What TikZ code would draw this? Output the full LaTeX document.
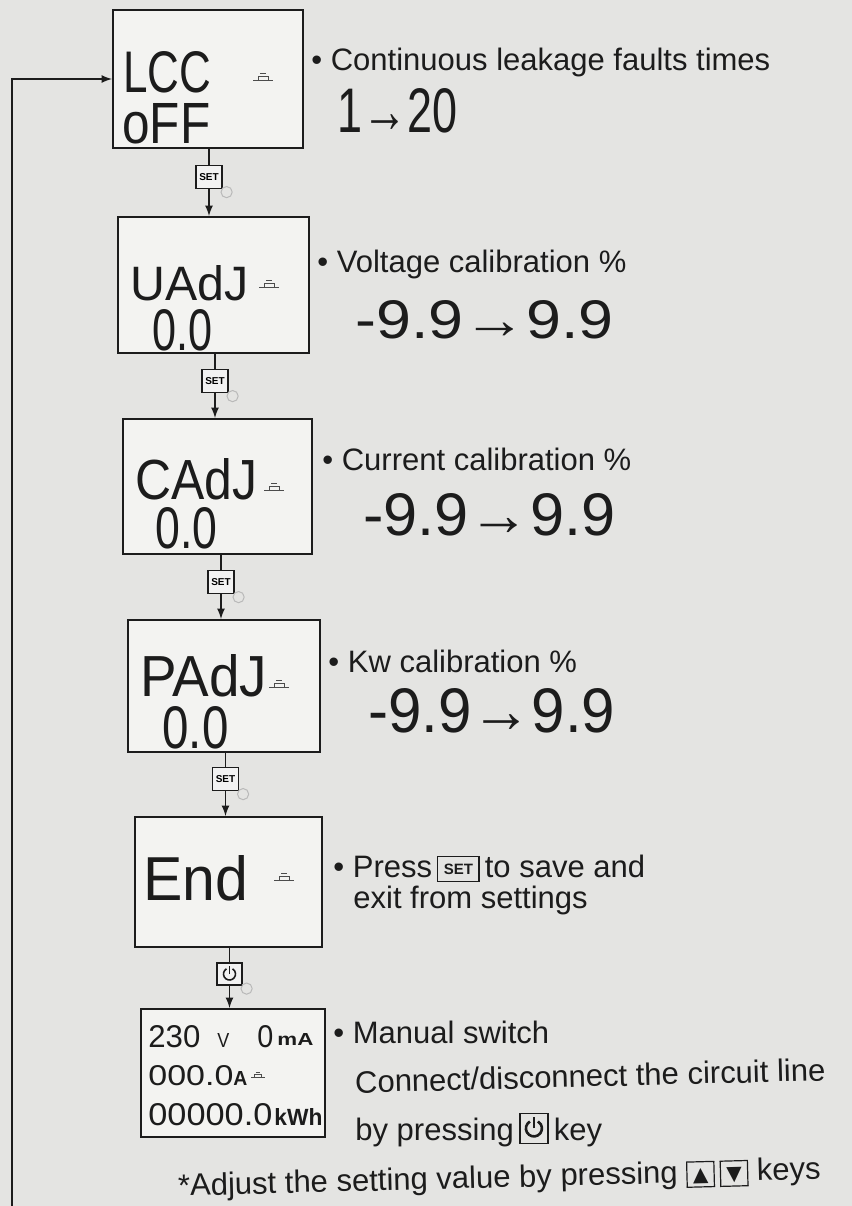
\documentclass[tikz,border=0pt]{standalone}
\usepackage{fontspec}
\usepackage{graphicx}
\setmainfont{Liberation Sans}
\newfontfamily\lcdfont{Liberation Sans}
\newfontfamily\symfont{DejaVu Sans}
\definecolor{paper}{HTML}{E4E4E2}
\definecolor{lcdbg}{HTML}{F3F3F1}
\definecolor{ink}{HTML}{1C1C1C}
\newdimen\pxu \pxu=0.5pt
\newcommand\fitbox[3]{\resizebox{#1\pxu}{#2\pxu}{#3}}
\newcommand\lcdfit[3]{\fitbox{#1}{#2}{\lcdfont #3}}
\newcommand\keycap[2]{\raisebox{-1pt}{\fboxsep=0pt\fboxrule=0.6pt\fbox{\makebox[#1]{\rule[-1pt]{0pt}{12pt}#2}}}}
\tikzset{
  >=latex,
  screen/.style={draw=ink, line width=1pt, fill=lcdbg, inner sep=0pt},
  setkey/.style={draw=ink, line width=0.6pt, fill=gray!10, inner sep=0pt,
    minimum width=13pt, minimum height=11.5pt, font=\fontsize{5}{5}\selectfont\bfseries},
  wire/.style={draw=ink, line width=0.8pt},
  finger/.style={draw=gray!55, line width=0.5pt},
  txt/.style={font=\fontsize{15.5}{18}\selectfont, text=ink, inner sep=0pt, anchor=base west},
  lcd/.style={text=ink, inner sep=0pt, anchor=base west},
  leak/.pic={
    \draw[gray!60!black, line width=0.5pt] (-10,0) -- (10,0);
    \draw[gray!60!black, line width=0.5pt] (-5,0) -- (-5,-4) -- (5,-4) -- (5,0);
    \draw[gray!60!black, line width=0.5pt] (-3,-7) -- (3,-7);
  }
}
\begin{document}
\begin{tikzpicture}[x=0.5pt, y=-0.5pt]
  \useasboundingbox (0,0) rectangle (852,1206);
  \fill[paper] (0,0) rectangle (852,1206);

  \node[screen, minimum width=95pt, minimum height=69pt] (lcc) at (208,79) {};
  \node[screen, minimum width=95.5pt, minimum height=68pt] (uadj) at (213.5,285) {};
  \node[screen, minimum width=94.5pt, minimum height=67.5pt] (cadj) at (217.5,486.5) {};
  \node[screen, minimum width=96pt, minimum height=66pt] (padj) at (224,686) {};
  \node[screen, minimum width=93.5pt, minimum height=65pt] (endb) at (228.5,882) {};
  \node[screen, minimum width=92pt, minimum height=64pt] (meter) at (233,1073) {};

  \node[setkey] (set1) at (209,177) {SET};
  \node[setkey] (set2) at (215,381) {SET};
  \node[setkey] (set3) at (221,582) {SET};
  \node[setkey] (set4) at (225.5,779) {SET};
  \node[setkey, minimum width=12.5pt, minimum height=11pt] (pwr) at (229.5,974) {};
  \draw[ink, line width=0.8pt] (pwr.center) ++(120:3pt) arc (120:420:3pt);
  \draw[ink, line width=0.8pt] (pwr.center) -- ++(0,3.8pt);

  \draw[wire] (lcc.south -| set1) -- (set1.north);
  \draw[wire,->] (set1.south) -- (uadj.north -| set1);
  \draw[wire] (uadj.south -| set2) -- (set2.north);
  \draw[wire,->] (set2.south) -- (cadj.north -| set2);
  \draw[wire] (cadj.south -| set3) -- (set3.north);
  \draw[wire,->] (set3.south) -- (padj.north -| set3);
  \draw[wire] (padj.south -| set4) -- (set4.north);
  \draw[wire,->] (set4.south) -- (endb.north -| set4);
  \draw[wire] (endb.south -| pwr) -- (pwr.north);
  \draw[wire,->] (pwr.south) -- (meter.north -| pwr);
  \foreach \k in {set1,set2,set3,set4,pwr}
    \draw[finger] ([shift={(4,3)}]\k.south east) circle (2.8pt);

  \coordinate (loopfoot) at (12,1206);
  \draw[wire,->] (loopfoot) |- (lcc.west);

  \node[lcd] (lccA) at (123,92) {\lcdfit{88}{41}{LCC}};
  \node[lcd] (lccB) at (122,143) {\lcdfit{88}{40}{oFF}};
  \pic at (263,80) {leak};
  \node[lcd] (uadjA) at (130,300) {\lcdfit{118}{35}{UAdJ}};
  \node[lcd] (uadjB) at (152,350) {\lcdfit{60}{41}{0.0}};
  \pic at (269,287) {leak};
  \node[lcd] (cadjA) at (135,499) {\lcdfit{122}{41}{CAdJ}};
  \node[lcd] (cadjB) at (155,548) {\lcdfit{62}{41}{0.0}};
  \pic at (274,490) {leak};
  \node[lcd] (padjA) at (140,696) {\lcdfit{127}{42}{PAdJ}};
  \node[lcd] (padjB) at (162,748) {\lcdfit{66}{42}{0.0}};
  \pic at (279,687) {leak};
  \node[lcd] (endA) at (143,900) {\lcdfit{105}{45}{End}};
  \pic at (284,880) {leak};

  \node[lcd] (volts) at (148,1047) {\lcdfit{52}{22}{230}};
  \node[lcd] (vunit) at (217,1047) {\lcdfit{12}{14}{V}};
  \node[lcd] (milli) at (257,1047) {\lcdfit{16}{22}{0}};
  \node[lcd] (maunit) at (277,1045) {\fitbox{36}{12}{\bfseries mA}};
  \node[lcd] (amps) at (148,1085) {\lcdfit{85}{20}{000.0}};
  \node[lcd] (aunit) at (233,1085) {\fitbox{14}{14}{\bfseries A}};
  \pic[scale=0.7] at (258,1077) {leak};
  \node[lcd] (energy) at (148,1125) {\lcdfit{124}{22}{00000.0}};
  \node[lcd] (kwhunit) at (274,1125) {\fitbox{48}{17}{\bfseries kWh}};

  \node[txt] (faults) at (311,70) {\textbullet\ Continuous leakage faults times};
  \node[lcd] (range1) at (337,132) {\lcdfit{120}{44}{1→20}};
  \node[txt] (volt) at (317,272) {\textbullet\ Voltage calibration \%};
  \node[lcd] (range2) at (355,338) {\lcdfit{258}{38}{-9.9→9.9}};
  \node[txt] (curr) at (322,470) {\textbullet\ Current calibration \%};
  \node[lcd] (range3) at (363,535) {\lcdfit{252}{42}{-9.9→9.9}};
  \node[txt] (kw) at (328,672) {\textbullet\ Kw calibration \%};
  \node[lcd] (range4) at (368,732) {\lcdfit{247}{44}{-9.9→9.9}};

  \node[txt] (save) at (333,877) {\textbullet\ Press\,\keycap{20pt}{\raisebox{2.5pt}{\fontsize{7.5}{8}\selectfont\bfseries SET}}\,to save and};
  \node[txt] (exit) at (353,908) {exit from settings};

  \node[txt] (manual) at (333,1043) {\textbullet\ Manual switch};
  \node[txt, rotate=1.5] (connect) at (355,1093) {Connect/disconnect the circuit line};
  \node[txt] (bypress) at (355,1140) {by pressing};
  \node[draw=ink, line width=0.6pt, inner sep=0pt, minimum width=14pt, minimum height=15pt,
    anchor=south west] (pkey) at ([shift={(5,4)}]bypress.base east) {};
  \draw[ink, line width=1.3pt] (pkey.center) ++(120:4pt) arc (120:420:4pt);
  \draw[ink, line width=1.3pt] (pkey.center) -- ++(0,5.5pt);
  \node[txt] (keyword) at ([shift={(5,-4)}]pkey.south east) {key};

  \node[txt, rotate=1.5] (note) at (178,1196) {*Adjust the setting value by pressing
    \keycap{13pt}{\raisebox{1.5pt}{\symfont\fontsize{10}{10}\selectfont ▲}}\,\keycap{13pt}{\raisebox{1.5pt}{\symfont\fontsize{10}{10}\selectfont ▼}} keys};
\end{tikzpicture}
\end{document}
